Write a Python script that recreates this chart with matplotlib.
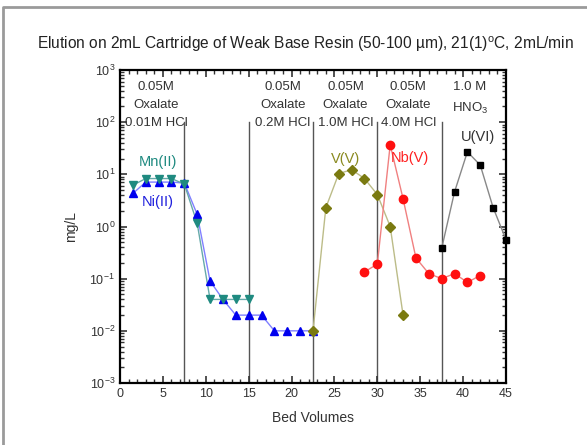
import matplotlib
matplotlib.use('Agg')
import matplotlib.pyplot as plt
from matplotlib.lines import Line2D
from matplotlib.ticker import MultipleLocator, LogLocator, NullFormatter

plt.rcParams['font.family'] = ['Liberation Sans', 'DejaVu Sans']
plt.rcParams['mathtext.fontset'] = 'custom'
plt.rcParams['mathtext.rm'] = 'Liberation Sans'

# data
mn_x = [1.5, 3, 4.5, 6, 7.5, 9, 10.5, 12, 13.5, 15]
mn_y = [6.2, 8.3, 8.3, 8.3, 6.5, 1.15, 0.04, 0.04, 0.04, 0.04]
ni_x = [1.5, 3, 4.5, 6, 7.5, 9, 10.5, 12, 13.5, 15, 16.5, 18, 19.5, 21, 22.5]
ni_y = [4.3, 7.1, 7.1, 7.1, 6.8, 1.7, 0.09, 0.04, 0.02, 0.02, 0.02, 0.01, 0.01, 0.01, 0.01]
v_x = [22.5, 24, 25.5, 27, 28.5, 30, 31.5, 33]
v_y = [0.01, 2.3, 10.3, 12.3, 8.3, 4.1, 1.0, 0.02]
nb_x = [28.5, 30, 31.5, 33, 34.5, 36, 37.5, 39, 40.5, 42]
nb_y = [0.135, 0.19, 37, 3.4, 0.25, 0.125, 0.10, 0.125, 0.085, 0.115]
u_x = [37.5, 39, 40.5, 42, 43.5, 45]
u_y = [0.38, 4.6, 27, 15, 2.3, 0.56]

cuts = [7.5, 15, 22.5, 30, 37.5]
eluents = ['0.05M\nOxalate\n0.01M HCl', '0.05M\nOxalate\n0.2M HCl', '0.05M\nOxalate\n1.0M HCl',
           '0.05M\nOxalate\n4.0M HCl', '1.0 M\nHNO$_3$']
eluent_x = [4.2, 19, 26.3, 33.6, 40.8]

fig = plt.figure(figsize=(5.87, 4.45), dpi=100)
# grey frame of the original slide (left and top only visible)
fig.lines.append(Line2D([3/587, 3/587, 1.0], [0.0, 1 - 7/445, 1 - 7/445], transform=fig.transFigure,
                        color='#9a9a9a', lw=2))
ax = fig.add_axes([120/587, 62/445, 386/587, 313/445])

for c in cuts:
    ax.plot([c, c], [1e-3, 1e2], color='#555555', lw=1, zorder=1)

ax.plot(ni_x, ni_y, color='#8080ff', lw=1, zorder=2)
ax.plot(ni_x, ni_y, ls='none', marker='^', color='#0000ee', ms=6, zorder=3)
ax.plot(mn_x, mn_y, color='#66aaaa', lw=1, zorder=2)
ax.plot(mn_x, mn_y, ls='none', marker='v', color='#1f8a80', ms=6, zorder=3)
ax.plot(v_x, v_y, color='#bcbc88', lw=1, zorder=2)
ax.plot(v_x, v_y, ls='none', marker='D', color='#7a7a10', ms=5, zorder=4)
ax.plot(nb_x, nb_y, color='#f08080', lw=1, zorder=2)
ax.plot(nb_x, nb_y, ls='none', marker='o', color='#ff1010', ms=6, zorder=3)
ax.plot(u_x, u_y, color='#888888', lw=1, zorder=2)
ax.plot(u_x, u_y, ls='none', marker='s', color='black', ms=5, zorder=3, clip_on=False)

for t, xx in zip(eluents, eluent_x):
    ax.text(xx, 620, t, ha='center', va='top', fontsize=9.5, color='#333333', linespacing=1.7)

ax.text(4.4, 14.5, 'Mn(II)', color='#1f8a80', fontsize=10.5, ha='center')
ax.text(4.4, 2.5, 'Ni(II)', color='#2020dd', fontsize=10.5, ha='center')
ax.text(26.3, 16.5, 'V(V)', color='#8a8a20', fontsize=10.5, ha='center')
ax.text(33.8, 17, 'Nb(V)', color='#ff2020', fontsize=10.5, ha='center')
ax.text(41.7, 44, 'U(VI)', color='#333333', fontsize=10.5, ha='center')

ax.set_yscale('log')
ax.set_xlim(0, 45)
ax.set_ylim(1e-3, 1e3)
ax.xaxis.set_major_locator(MultipleLocator(5))
ax.xaxis.set_minor_locator(MultipleLocator(1))
ax.yaxis.set_major_locator(LogLocator(base=10, numticks=10))
ax.yaxis.set_minor_locator(LogLocator(base=10, subs=range(2, 10), numticks=10))
ax.yaxis.set_minor_formatter(NullFormatter())
ax.tick_params(which='both', direction='in', top=True, right=True, labelsize=9, colors='#333333')
ax.tick_params(which='major', length=5, width=1.2)
ax.tick_params(which='minor', length=3, width=1)
for s in ax.spines.values():
    s.set_linewidth(1.6)

ax.set_xlabel('Bed Volumes', fontsize=10, color='#333333', labelpad=8)
ax.set_ylabel('mg/L', fontsize=10, color='#333333', labelpad=8)
fig.text(37/587, 1 - 44/445, 'Elution on 2mL Cartridge of Weak Base Resin (50-100 \u00b5m), 21(1)$^{\\rm o}$C, 2mL/min',
         ha='left', va='center', fontsize=11.2, color='#222222')

fig.savefig('out.png', dpi=100)
